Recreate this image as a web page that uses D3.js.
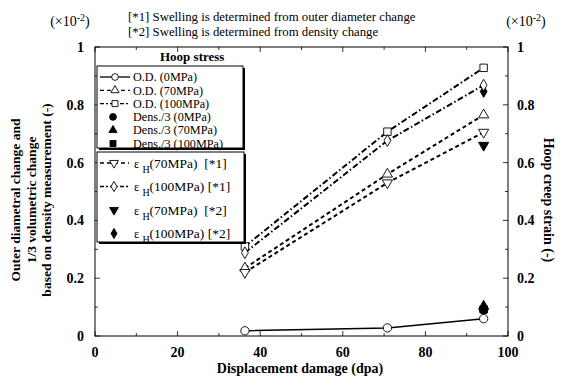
<!DOCTYPE html>
<html>
<head>
<meta charset="utf-8">
<script src="https://cdn.jsdelivr.net/npm/d3@7"></script>
<style>
  body { margin: 0; background: #fff; }
  text { font-family: "Liberation Serif", "Times New Roman", serif; fill: #000; }
</style>
</head>
<body>
<svg width="571" height="382"></svg>
<script>
// data (y in units of 1e-2)
let dpa = [36.3, 70.8, 94.1];
let od0 = [0.018, 0.028, 0.06];
let od70 = [0.235, 0.56, 0.765];
let od100 = [0.31, 0.707, 0.928];
let epsH70 = [0.22, 0.53, 0.705];
let epsH100 = [0.288, 0.676, 0.868];
let densDpa = [94.1];
let dens0 = [0.09];
let dens70 = [0.103];
let dens100 = [0.092];
let epsH70d = [0.66];
let epsH100d = [0.846];
let xTicks = [0, 20, 40, 60, 80, 100];
let yTicks = [0, 0.2, 0.4, 0.6, 0.8, 1];

let svg = d3.select("svg");
let pLeft = 95, pRight = 508, pTop = 47, pBottom = 336;

let x = d3.scaleLinear().domain([0, 100]).range([pLeft, pRight]);
let y = d3.scaleLinear().domain([0, 1]).range([pBottom, pTop]);

// frame
svg.append("rect")
  .attr("x", pLeft).attr("y", pTop)
  .attr("width", pRight - pLeft).attr("height", pBottom - pTop)
  .attr("fill", "none").attr("stroke", "#000").attr("stroke-width", 1);

// ticks, inward on all four sides
let tickLen = 5;
let xMinor = d3.range(0, 101, 10);
let yMinor = d3.range(0, 1.001, 0.1);
let tk = svg.append("g").attr("stroke", "#000").attr("stroke-width", 0.8);
xMinor.forEach(v => {
  let len = v % 20 === 0 ? tickLen : 3;
  tk.append("line").attr("x1", x(v)).attr("x2", x(v)).attr("y1", pBottom).attr("y2", pBottom - len);
  tk.append("line").attr("x1", x(v)).attr("x2", x(v)).attr("y1", pTop).attr("y2", pTop + len);
});
yMinor.forEach((v, i) => {
  let len = i % 2 === 0 ? tickLen : 3;
  tk.append("line").attr("y1", y(v)).attr("y2", y(v)).attr("x1", pLeft).attr("x2", pLeft + len);
  tk.append("line").attr("y1", y(v)).attr("y2", y(v)).attr("x1", pRight).attr("x2", pRight - len);
});

// tick labels
svg.append("g").selectAll("text").data(xTicks).enter().append("text")
  .attr("x", d => x(d)).attr("y", pBottom + 21)
  .attr("text-anchor", "middle").attr("font-size", 14).attr("font-weight", "bold")
  .text(d => d);
svg.append("g").selectAll("text").data(yTicks).enter().append("text")
  .attr("x", pLeft - 11).attr("y", d => y(d) + 5)
  .attr("text-anchor", "end").attr("font-size", 14).attr("font-weight", "bold")
  .text(d => d);
svg.append("g").selectAll("text").data(yTicks).enter().append("text")
  .attr("x", pRight + 9).attr("y", d => y(d) + 5)
  .attr("text-anchor", "start").attr("font-size", 14).attr("font-weight", "bold")
  .text(d => d);

// exponent labels
function expLabel(cx) {
  let t = svg.append("text").attr("x", cx).attr("y", 26)
    .attr("text-anchor", "middle").attr("font-size", 14);
  t.append("tspan").text("(\u00d710");
  t.append("tspan").attr("dy", -5).attr("font-size", 10).text("-2");
  t.append("tspan").attr("dy", 5).text(")");
}
expLabel(70);
expLabel(526);

// top notes
svg.append("text").attr("x", 128).attr("y", 21).attr("font-size", 12.8)
  .text("[*1] Swelling is determined from outer diameter change");
svg.append("text").attr("x", 128).attr("y", 36).attr("font-size", 12.8)
  .text("[*2] Swelling is determined from density change");

// axis titles
svg.append("text").attr("x", 300).attr("y", 373)
  .attr("text-anchor", "middle").attr("font-size", 14).attr("font-weight", "bold")
  .text("Displacement damage (dpa)");
let yTitle = ["Outer diametral change and", "1/3 volumetric change", "based on density measurement (-)"];
svg.append("g").attr("transform", "translate(20,200) rotate(-90)")
  .selectAll("text").data(yTitle).enter().append("text")
  .attr("x", 0).attr("y", (d, i) => i * 15.5)
  .attr("text-anchor", "middle").attr("font-size", 13.5).attr("font-weight", "bold")
  .text(d => d);
svg.append("text").attr("transform", "translate(544,200) rotate(90)")
  .attr("text-anchor", "middle").attr("font-size", 14).attr("font-weight", "bold")
  .text("Hoop creep strain (-)");

// markers
function marker(g, type, cx, cy, filled, scale = 1) {
  let sym = { circle: d3.symbolCircle, tri: d3.symbolTriangle, triDown: d3.symbolTriangle,
              square: d3.symbolSquare, diamond: d3.symbolDiamond }[type];
  let size = { circle: 55, tri: 45, triDown: 45, square: 55, diamond: 40 }[type] * scale;
  g.append("path")
    .attr("d", d3.symbol().type(sym).size(size)())
    .attr("transform", `translate(${cx},${cy})` + (type === "triDown" ? " rotate(180)" : ""))
    .attr("fill", filled ? "#000" : "#fff")
    .attr("stroke", "#000").attr("stroke-width", 0.9);
}

let line = d3.line().x(d => x(d[0])).y(d => y(d[1]));
let series = [
  { vals: od0, dash: null, m: "circle" },
  { vals: od70, dash: "4,3", m: "tri" },
  { vals: od100, dash: "6,2.5,1.5,2.5", m: "square" },
  { vals: epsH70, dash: "4,3", m: "triDown" },
  { vals: epsH100, dash: "6,2.5,1.5,2.5", m: "diamond" }
];
let plot = svg.append("g");
series.forEach(s => {
  plot.append("path").datum(dpa.map((d, i) => [d, s.vals[i]]))
    .attr("d", line).attr("fill", "none").attr("stroke", "#000")
    .attr("stroke-width", s.dash ? 2 : 1.5)
    .attr("stroke-dasharray", s.dash);
});
let filledSeries = [
  { vals: epsH70d, m: "triDown" },
  { vals: epsH100d, m: "diamond" },
  { vals: dens70, m: "tri" },
  { vals: dens100, m: "square" },
  { vals: dens0, m: "circle" }
];
filledSeries.forEach(s => densDpa.forEach((d, i) => marker(plot, s.m, x(d), y(s.vals[i]), true)));
series.forEach(s => dpa.forEach((d, i) => marker(plot, s.m, x(d), y(s.vals[i]), false)));

// legend
svg.append("text").attr("x", 160).attr("y", 61).attr("font-size", 13).attr("font-weight", "bold")
  .text("Hoop stress");

function box(x0, y0, w, h) {
  svg.append("rect").attr("x", x0 + 2).attr("y", y0 + 2).attr("width", w).attr("height", h).attr("fill", "#000");
  svg.append("rect").attr("x", x0).attr("y", y0).attr("width", w).attr("height", h)
    .attr("fill", "#fff").attr("stroke", "#000").attr("stroke-width", 1);
}
box(97, 66, 146, 82);
box(97, 152, 147, 90);

let leg1 = [
  { label: "O.D. (0MPa)", dash: null, m: "circle", filled: false, line: true },
  { label: "O.D. (70MPa)", dash: "4,3", m: "tri", filled: false, line: true },
  { label: "O.D. (100MPa)", dash: "4,2,2,2", m: "square", filled: false, line: true },
  { label: "Dens./3 (0MPa)", m: "circle", filled: true, line: false },
  { label: "Dens./3 (70MPa)", m: "tri", filled: true, line: false },
  { label: "Dens./3 (100MPa)", m: "square", filled: true, line: false }
];
let lg = svg.append("g");
leg1.forEach((d, i) => {
  let cy = 77 + i * 13.3;
  if (d.line) {
    lg.append("line").attr("x1", 100).attr("x2", 130).attr("y1", cy).attr("y2", cy)
      .attr("stroke", "#000").attr("stroke-width", 1.3).attr("stroke-dasharray", d.dash);
    marker(lg, d.m, 115, cy, d.filled, 0.65);
  } else {
    marker(lg, d.m, 113, cy, d.filled, 0.65);
  }
  lg.append("text").attr("x", 133).attr("y", cy + 4.2).attr("font-size", 12.2).text(d.label);
});

let leg2 = [
  { p: "(70MPa)  [*1]", dash: "4,3", m: "triDown", filled: false, line: true },
  { p: "(100MPa) [*1]", dash: "4,2,2,2", m: "diamond", filled: false, line: true },
  { p: "(70MPa)  [*2]", m: "triDown", filled: true, line: false },
  { p: "(100MPa) [*2]", m: "diamond", filled: true, line: false }
];
leg2.forEach((d, i) => {
  let cy = 163 + i * 23.5;
  if (d.line) {
    lg.append("line").attr("x1", 100).attr("x2", 129).attr("y1", cy).attr("y2", cy)
      .attr("stroke", "#000").attr("stroke-width", 1.3).attr("stroke-dasharray", d.dash);
  }
  marker(lg, d.m, 114, cy, d.filled, 0.75);
  let t = lg.append("text").attr("x", 134).attr("y", cy + 4.5).attr("font-size", 13.5)
    .style("white-space", "pre");
  t.append("tspan").attr("font-size", 12.5).text("\u03b5 ");
  t.append("tspan").attr("dy", 5).attr("font-size", 10).text("H");
  t.append("tspan").attr("dy", -5).text(d.p);
});
</script>
</body>
</html>
